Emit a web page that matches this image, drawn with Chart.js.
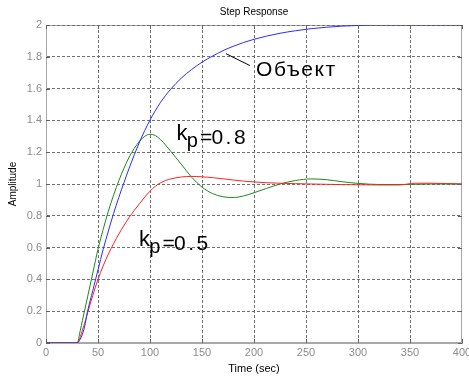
<!DOCTYPE html>
<html>
<head>
<meta charset="utf-8">
<script src="https://cdn.jsdelivr.net/npm/chart.js@4.4.0/dist/chart.umd.min.js"></script>
<style>
    html, body { margin: 0; padding: 0; background: #fff; }
</style>
</head>
<body>
<canvas id="stepChart" width="469" height="378"></canvas>
<script>
// time (sec), shared by the three step responses
let timeSec = [0, 30, 33, 35, 37, 40, 45, 50, 55, 60, 65, 70, 75, 80, 85, 90, 95, 100, 105, 110,
    115, 120, 125, 130, 135, 140, 145, 150, 155, 160, 170, 180, 190, 200, 212, 225, 240, 255,
    270, 285, 300, 320, 340, 355, 370, 400];

// open-loop plant ("Объект")
let objectResp = [0, 0, 0.025, 0.055, 0.1, 0.2, 0.33, 0.46, 0.59, 0.705, 0.815, 0.915, 1.01, 1.1, 1.185,
    1.265, 1.337, 1.402, 1.46, 1.512, 1.557, 1.597, 1.633, 1.665, 1.694, 1.72, 1.744, 1.766, 1.786,
    1.804, 1.838, 1.866, 1.89, 1.91, 1.93, 1.948, 1.964, 1.977, 1.986, 1.993, 1.997, 2.0, 2.0, 2.0, 2.0, 2.0];

// kp = 0.8
let kp08Resp = [0, 0, 0.08, 0.14, 0.2, 0.29, 0.44, 0.59, 0.715, 0.83, 0.93, 1.02, 1.1, 1.17, 1.225, 1.27,
    1.3, 1.313, 1.305, 1.28, 1.245, 1.205, 1.165, 1.125, 1.083, 1.043, 1.01, 0.98, 0.958, 0.94, 0.92,
    0.915, 0.925, 0.945, 0.972, 1.0, 1.022, 1.032, 1.027, 1.014, 1.004, 0.997, 0.997, 0.998, 1.0, 1.0];

// kp = 0.5
let kp05Resp = [0, 0, 0.04, 0.08, 0.12, 0.19, 0.3, 0.4, 0.485, 0.56, 0.625, 0.685, 0.74, 0.79, 0.835,
    0.877, 0.918, 0.955, 0.985, 1.007, 1.022, 1.032, 1.039, 1.044, 1.047, 1.048, 1.047, 1.045, 1.043,
    1.04, 1.033, 1.025, 1.018, 1.013, 1.008, 1.005, 1.002, 1.0, 0.998, 0.996, 0.995, 0.994, 0.994,
    1.005, 1.005, 1.0];

let xTickValues = [0, 50, 100, 150, 200, 250, 300, 350, 400];
let yTickValues = [0, 0.2, 0.4, 0.6, 0.8, 1, 1.2, 1.4, 1.6, 1.8, 2];

// annotation anchors, in data units
let objectLabel = { text: 'Объект', x: 202, y: 1.68 };
let objectLeader = { x1: 173, y1: 1.82, x2: 196, y2: 1.745 };
let kpLabels = [
    { value: '0.8', x: 125.4, y: 1.274 },
    { value: '0.5', x: 89.4, y: 0.612 }
];

const FONT = '"Liberation Sans", Arial, sans-serif';
Chart.defaults.font.family = FONT;

function toPoints(values) {
    return timeSec.map((t, i) => ({ x: t, y: values[i] }));
}

const frameAndTicks = {
    id: 'frameAndTicks',
    beforeDraw(chart) {
        const { ctx, chartArea: a } = chart;
        ctx.save();
        ctx.strokeStyle = '#a8a8a8';
        ctx.lineWidth = 1;
        ctx.strokeRect(a.left + 0.5, a.top + 0.5, a.right - a.left - 1, a.bottom - a.top - 1);
        ctx.restore();
    },
    afterDatasetsDraw(chart) {
        const { ctx, chartArea: a, scales } = chart;
        ctx.save();
        ctx.strokeStyle = '#606060';
        ctx.lineWidth = 1;
        ctx.beginPath();
        xTickValues.forEach(v => {
            let px = Math.round(scales.x.getPixelForValue(v)) + 0.5;
            ctx.moveTo(px, a.bottom); ctx.lineTo(px, a.bottom - 4);
            ctx.moveTo(px, a.top); ctx.lineTo(px, a.top + 4);
        });
        yTickValues.forEach(v => {
            let py = Math.round(scales.y.getPixelForValue(v)) + 0.5;
            ctx.moveTo(a.left, py); ctx.lineTo(a.left + 4, py);
            ctx.moveTo(a.right, py); ctx.lineTo(a.right - 4, py);
        });
        ctx.stroke();
        ctx.restore();
    },
    afterDraw(chart) {
        const { ctx, scales } = chart;
        const sx = v => scales.x.getPixelForValue(v);
        const sy = v => scales.y.getPixelForValue(v);
        ctx.save();
        ctx.fillStyle = '#000';
        ctx.strokeStyle = '#000';
        ctx.lineWidth = 1;
        ctx.textBaseline = 'alphabetic';
        ctx.textAlign = 'left';

        // leader line + plant label
        ctx.beginPath();
        ctx.moveTo(sx(objectLeader.x1), sy(objectLeader.y1));
        ctx.lineTo(sx(objectLeader.x2), sy(objectLeader.y2));
        ctx.stroke();
        ctx.font = '21px ' + FONT;
        ctx.letterSpacing = '1.5px';
        ctx.fillText(objectLabel.text, sx(objectLabel.x), sy(objectLabel.y));

        // k_p = ...
        kpLabels.forEach(lb => {
            let px = sx(lb.x), py = sy(lb.y);
            ctx.letterSpacing = '0px';
            ctx.font = '22px ' + FONT;
            ctx.fillText('k', px, py);
            ctx.font = '20px ' + FONT;
            ctx.fillText('p', px + 10.3, py + 7);
            ctx.font = '21px ' + FONT;
            ctx.fillText('=', px + 23.5, py + 4);
            ctx.letterSpacing = '2.5px';
            ctx.fillText(lb.value, px + 35, py + 4);
        });
        ctx.restore();
    }
};

new Chart(document.getElementById('stepChart'), {
    type: 'line',
    data: {
        datasets: [{
            label: 'Объект',
            data: toPoints(objectResp),
            borderColor: '#2a2aff',
            borderWidth: 1,
            pointRadius: 0,
            cubicInterpolationMode: 'monotone'
        }, {
            label: 'kp=0.5',
            data: toPoints(kp05Resp),
            borderColor: '#ff2020',
            borderWidth: 1,
            pointRadius: 0,
            cubicInterpolationMode: 'monotone'
        }, {
            label: 'kp=0.8',
            data: toPoints(kp08Resp),
            borderColor: '#1a8a1a',
            borderWidth: 1,
            pointRadius: 0,
            cubicInterpolationMode: 'monotone'
        }]
    },
    options: {
        responsive: false,
        devicePixelRatio: 1,
        animation: false,
        layout: { padding: { top: 0, right: 7, bottom: 0, left: 0 } },
        plugins: {
            legend: { display: false },
            tooltip: { enabled: false },
            title: {
                display: true,
                text: 'Step Response',
                color: '#000',
                fullSize: false,
                font: { size: 10, weight: 'normal' },
                padding: { top: 6, bottom: 7 }
            }
        },
        scales: {
            x: {
                type: 'linear',
                min: 0,
                max: 400,
                afterBuildTicks: scale => { scale.ticks = xTickValues.map(v => ({ value: v })); },
                afterFit: scale => {
                    scale.height = 35;
                    scale.paddingLeft = 0;
                    scale.paddingRight = 0;
                },
                ticks: {
                    color: '#8c8c8c',
                    font: { size: 11 },
                    padding: 3,
                    maxRotation: 0,
                    autoSkip: false
                },
                grid: {
                    drawTicks: false,
                    color: ctx => (ctx.tick && (ctx.tick.value === 0 || ctx.tick.value === 400)) ? 'rgba(0,0,0,0)' : '#707070'
                },
                border: { color: '#a8a8a8', dash: [3, 2] },
                title: {
                    display: true,
                    text: 'Time (sec)',
                    color: '#000',
                    font: { size: 11 },
                    padding: { top: 0, bottom: 2 }
                }
            },
            y: {
                min: 0,
                max: 2,
                afterBuildTicks: scale => { scale.ticks = yTickValues.map(v => ({ value: v })); },
                afterFit: scale => { scale.width = 46; },
                ticks: {
                    color: '#8c8c8c',
                    font: { size: 11 },
                    padding: 4,
                    callback: v => String(+v.toFixed(1))
                },
                grid: {
                    drawTicks: false,
                    color: ctx => (ctx.tick && ctx.tick.value === 0) ? 'rgba(0,0,0,0)' : '#707070'
                },
                border: { color: '#a8a8a8', dash: [3, 2] },
                title: {
                    display: true,
                    text: 'Amplitude',
                    color: '#000',
                    font: { size: 10 },
                    padding: { top: 7, bottom: 0 }
                }
            }
        }
    },
    plugins: [frameAndTicks]
});
</script>
</body>
</html>
